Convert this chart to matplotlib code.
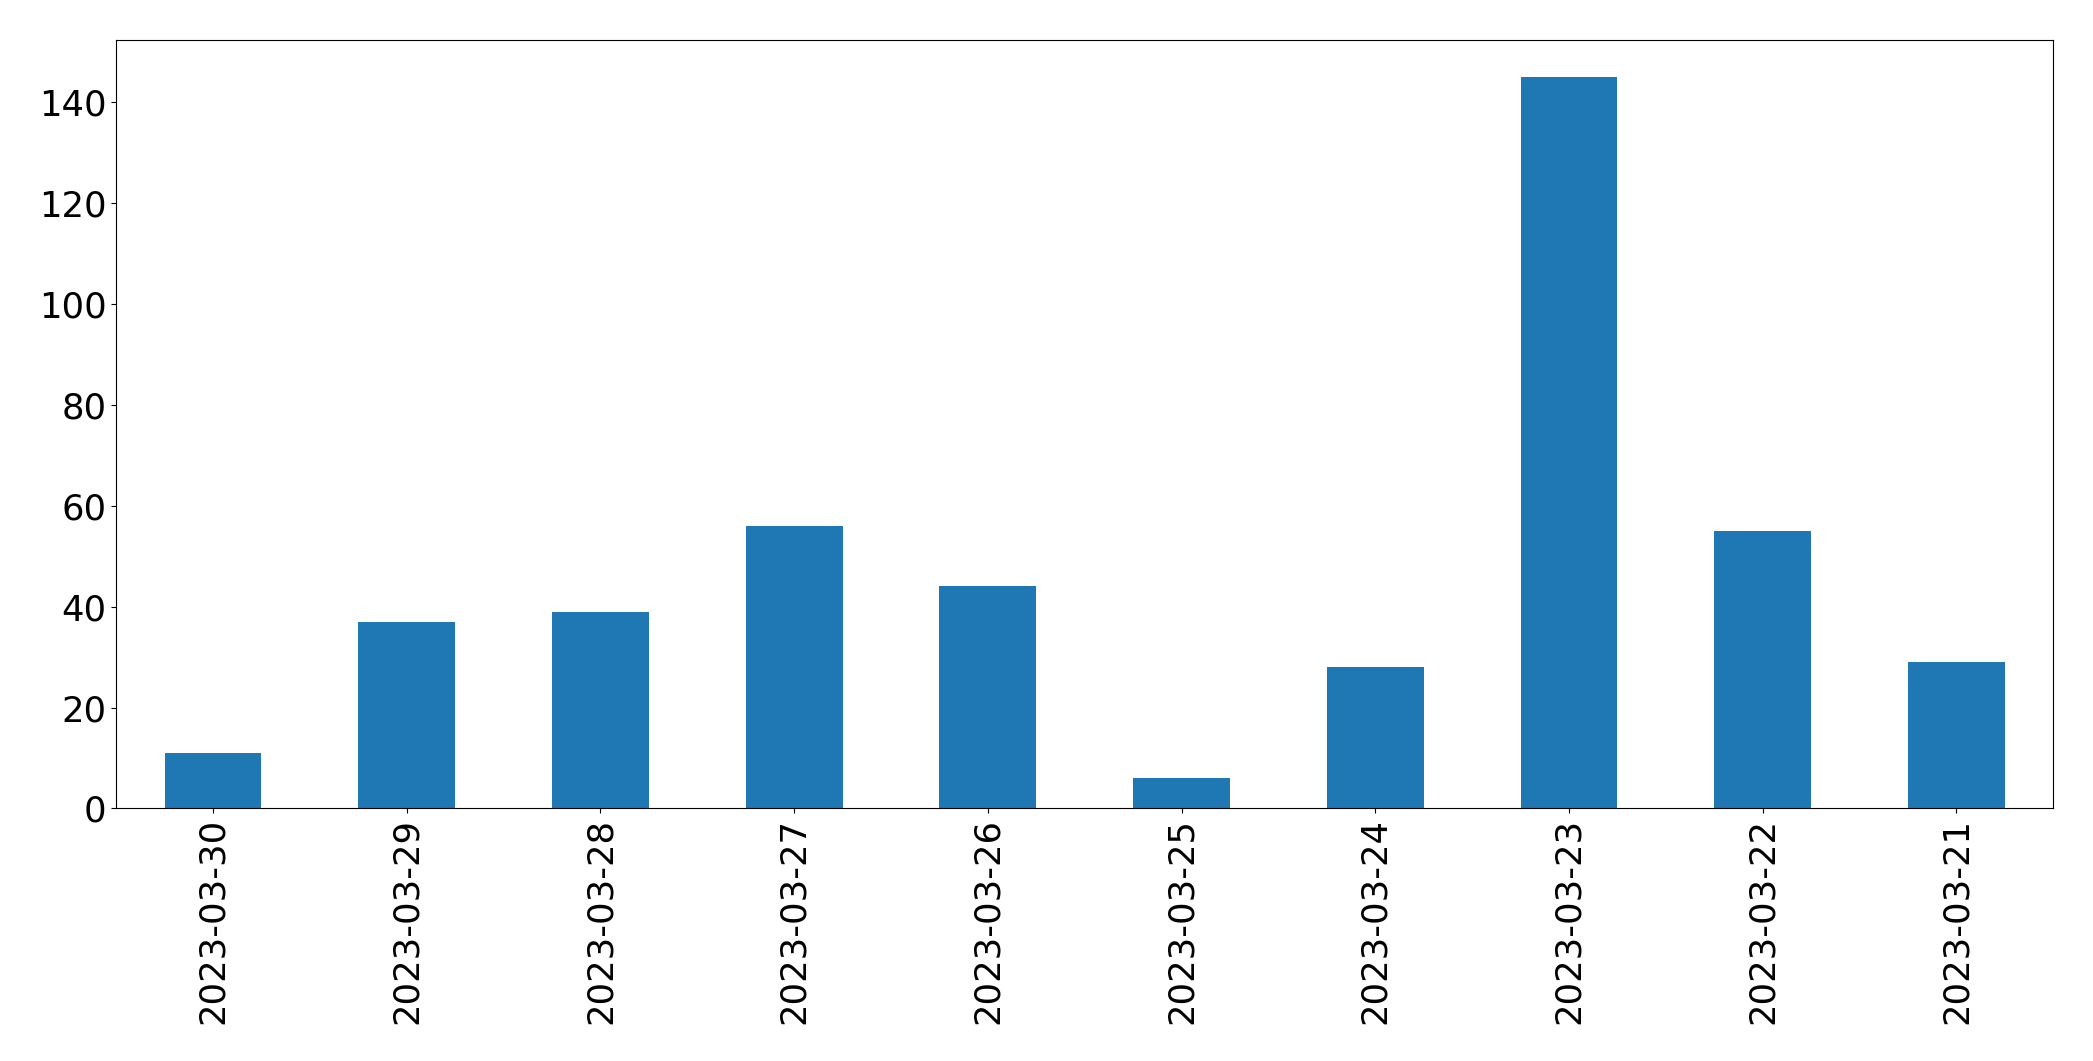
import matplotlib
matplotlib.use("Agg")
import matplotlib.pyplot as plt

dates = ["2023-03-30", "2023-03-29", "2023-03-28", "2023-03-27", "2023-03-26",
         "2023-03-25", "2023-03-24", "2023-03-23", "2023-03-22", "2023-03-21"]
counts = [11, 37, 39, 56, 44, 6, 28, 145, 55, 29]

fig = plt.figure(figsize=(20.93, 10.61), dpi=100)
ax = fig.add_axes([0.0555, 0.238, 0.9255, 0.724])
x = range(len(dates))
ax.bar(x, counts, width=0.5, color="#1f77b4")
ax.set_xticks(list(x))
ax.set_xticklabels(dates, rotation=90)
ax.set_xlim(-0.5, len(dates) - 0.5)
ax.tick_params(axis="both", labelsize=25.5)
fig.savefig("out.png", dpi=100)
